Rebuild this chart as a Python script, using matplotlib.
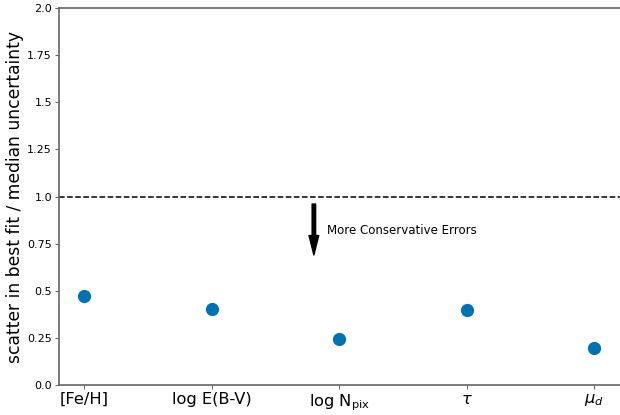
import numpy as np
import matplotlib
matplotlib.use("Agg")
from matplotlib import pyplot as plt

# parameters and their scatter ratios
params = ['[Fe/H]', 'log E(B-V)', r'log N$_{\rm pix}$', r'$\tau$', r'$\mu_d$']
ratio = [0.472, 0.405, 0.243, 0.398, 0.198]
yticks = [0.0, 0.25, 0.5, 0.75, 1.0, 1.25, 1.5, 1.75, 2.0]

fig = plt.figure(figsize=(6.2, 4.15), dpi=100)
ax = fig.add_axes([0.095, 0.072, 0.915, 0.909])

x = np.arange(len(params))
ax.plot(x, ratio, 'o', color='#0072B2', markersize=8.5, zorder=3)
ax.axhline(1.0, color='k', ls='--', lw=1.1)

ax.annotate('', xy=(1.8, 0.69), xytext=(1.8, 0.96),
            arrowprops=dict(facecolor='k', edgecolor='k', width=2.5,
                            headwidth=7, headlength=14))
ax.text(1.9, 0.82, 'More Conservative Errors', fontsize=8.5,
        ha='left', va='center')

ax.set_xlim(-0.2, 4.25)
ax.set_ylim(0, 2)
ax.set_xticks(x)
ax.set_xticklabels(params, fontsize=11.7)
ax.set_yticks(yticks)
ax.set_yticklabels([str(v) for v in yticks], fontsize=8)
ax.set_ylabel('scatter in best fit / median uncertainty', fontsize=12.3,
              labelpad=2)

for s in ax.spines.values():
    s.set_color('#666666')
    s.set_linewidth(1.2)
ax.tick_params(color='#666666', length=3, pad=2)

plt.savefig('out.png', dpi=100)
